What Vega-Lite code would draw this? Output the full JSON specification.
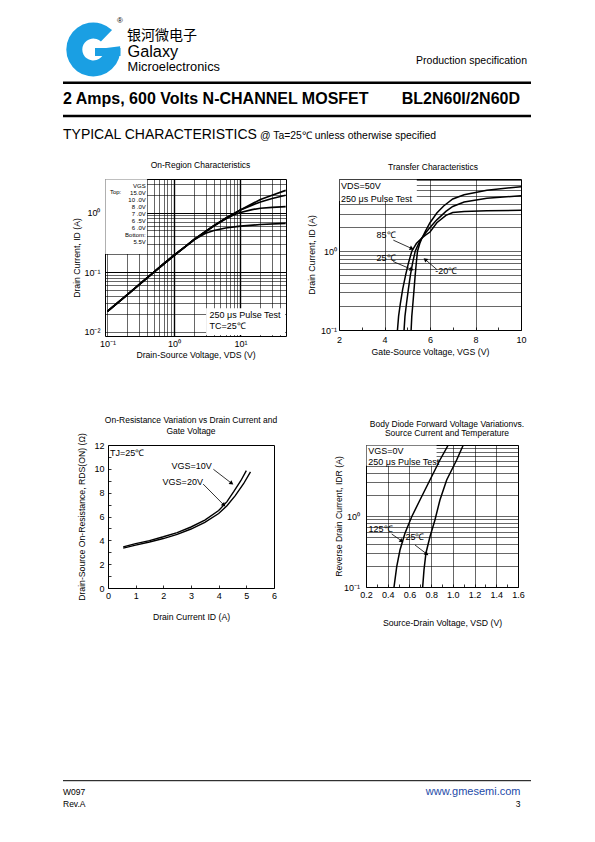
{
"$schema": "https://vega.github.io/schema/vega-lite/v6.json",
"padding": 0,
"spacing": 0,
"bounds": "flush",
"background": "white",
"config": {
  "font": "Liberation Sans",
  "view": {"stroke": "black", "strokeWidth": 1},
  "axis": {"domain": false, "ticks": false, "grid": false, "tickCount": 100, "labelFont": "Liberation Sans", "labelFontSize": 9, "labelColor": "black", "labelFlush": false, "labelOverlap": false, "titleFont": "Liberation Sans", "titleFontSize": 8.7, "titleFontWeight": "normal", "titleColor": "black", "gridColor": "black", "gridWidth": 0.6, "gridOpacity": 1, "labelPadding": 3, "titlePadding": 4},
  "title": {"font": "Liberation Sans", "fontSize": 8.5, "fontWeight": "normal", "color": "black", "offset": 10},
  "text": {"font": "Liberation Sans", "color": "black"}
},
"datasets": {
  "onregion": [
    {"vds": 0.1, "id": 0.022, "vgs": "15V"}, {"vds": 0.2, "id": 0.042, "vgs": "15V"}, {"vds": 0.3, "id": 0.062, "vgs": "15V"}, {"vds": 0.5, "id": 0.1, "vgs": "15V"}, {"vds": 0.7, "id": 0.137, "vgs": "15V"}, {"vds": 1, "id": 0.19, "vgs": "15V"}, {"vds": 1.5, "id": 0.27, "vgs": "15V"}, {"vds": 2, "id": 0.35, "vgs": "15V"}, {"vds": 3, "id": 0.48, "vgs": "15V"}, {"vds": 4, "id": 0.6, "vgs": "15V"}, {"vds": 6, "id": 0.8, "vgs": "15V"}, {"vds": 10, "id": 1.1, "vgs": "15V"}, {"vds": 15, "id": 1.4, "vgs": "15V"}, {"vds": 20, "id": 1.65, "vgs": "15V"}, {"vds": 30, "id": 1.95, "vgs": "15V"}, {"vds": 48, "id": 2.35, "vgs": "15V"},
    {"vds": 0.1, "id": 0.022, "vgs": "10V"}, {"vds": 0.2, "id": 0.042, "vgs": "10V"}, {"vds": 0.3, "id": 0.062, "vgs": "10V"}, {"vds": 0.5, "id": 0.1, "vgs": "10V"}, {"vds": 0.7, "id": 0.137, "vgs": "10V"}, {"vds": 1, "id": 0.19, "vgs": "10V"}, {"vds": 1.5, "id": 0.27, "vgs": "10V"}, {"vds": 2, "id": 0.35, "vgs": "10V"}, {"vds": 3, "id": 0.48, "vgs": "10V"}, {"vds": 4, "id": 0.6, "vgs": "10V"}, {"vds": 6, "id": 0.8, "vgs": "10V"}, {"vds": 10, "id": 1.1, "vgs": "10V"}, {"vds": 15, "id": 1.33, "vgs": "10V"}, {"vds": 20, "id": 1.5, "vgs": "10V"}, {"vds": 30, "id": 1.72, "vgs": "10V"}, {"vds": 48, "id": 1.95, "vgs": "10V"},
    {"vds": 0.1, "id": 0.022, "vgs": "8V"}, {"vds": 0.2, "id": 0.042, "vgs": "8V"}, {"vds": 0.3, "id": 0.062, "vgs": "8V"}, {"vds": 0.5, "id": 0.1, "vgs": "8V"}, {"vds": 0.7, "id": 0.137, "vgs": "8V"}, {"vds": 1, "id": 0.19, "vgs": "8V"}, {"vds": 1.5, "id": 0.27, "vgs": "8V"}, {"vds": 2, "id": 0.35, "vgs": "8V"}, {"vds": 3, "id": 0.48, "vgs": "8V"}, {"vds": 4, "id": 0.6, "vgs": "8V"}, {"vds": 6, "id": 0.78, "vgs": "8V"}, {"vds": 8, "id": 0.92, "vgs": "8V"}, {"vds": 10, "id": 1.0, "vgs": "8V"}, {"vds": 15, "id": 1.12, "vgs": "8V"}, {"vds": 20, "id": 1.18, "vgs": "8V"}, {"vds": 30, "id": 1.22, "vgs": "8V"}, {"vds": 48, "id": 1.26, "vgs": "8V"},
    {"vds": 0.1, "id": 0.022, "vgs": "6V"}, {"vds": 0.2, "id": 0.042, "vgs": "6V"}, {"vds": 0.3, "id": 0.062, "vgs": "6V"}, {"vds": 0.5, "id": 0.1, "vgs": "6V"}, {"vds": 0.7, "id": 0.137, "vgs": "6V"}, {"vds": 1, "id": 0.19, "vgs": "6V"}, {"vds": 1.5, "id": 0.27, "vgs": "6V"}, {"vds": 2, "id": 0.35, "vgs": "6V"}, {"vds": 3, "id": 0.45, "vgs": "6V"}, {"vds": 4, "id": 0.5, "vgs": "6V"}, {"vds": 6, "id": 0.55, "vgs": "6V"}, {"vds": 10, "id": 0.59, "vgs": "6V"}, {"vds": 20, "id": 0.63, "vgs": "6V"}, {"vds": 48, "id": 0.66, "vgs": "6V"}
  ],
  "transfer": [
    {"vgs": 4.57, "id": 0.1, "t": "85"}, {"vgs": 4.62, "id": 0.15, "t": "85"}, {"vgs": 4.7, "id": 0.22, "t": "85"}, {"vgs": 4.8, "id": 0.33, "t": "85"}, {"vgs": 4.93, "id": 0.5, "t": "85"}, {"vgs": 5.06, "id": 0.72, "t": "85"}, {"vgs": 5.2, "id": 1.0, "t": "85"}, {"vgs": 5.4, "id": 1.25, "t": "85"}, {"vgs": 5.62, "id": 1.45, "t": "85"}, {"vgs": 5.8, "id": 1.6, "t": "85"}, {"vgs": 6.0, "id": 1.75, "t": "85"}, {"vgs": 6.3, "id": 2.3, "t": "85"}, {"vgs": 6.7, "id": 2.85, "t": "85"}, {"vgs": 7.0, "id": 3.1, "t": "85"}, {"vgs": 7.5, "id": 3.2, "t": "85"}, {"vgs": 8.5, "id": 3.27, "t": "85"}, {"vgs": 10, "id": 3.3, "t": "85"},
    {"vgs": 4.86, "id": 0.1, "t": "25"}, {"vgs": 4.9, "id": 0.15, "t": "25"}, {"vgs": 4.97, "id": 0.22, "t": "25"}, {"vgs": 5.05, "id": 0.33, "t": "25"}, {"vgs": 5.14, "id": 0.5, "t": "25"}, {"vgs": 5.24, "id": 0.72, "t": "25"}, {"vgs": 5.35, "id": 1.0, "t": "25"}, {"vgs": 5.5, "id": 1.25, "t": "25"}, {"vgs": 5.63, "id": 1.45, "t": "25"}, {"vgs": 5.8, "id": 1.7, "t": "25"}, {"vgs": 6.0, "id": 2.0, "t": "25"}, {"vgs": 6.3, "id": 2.5, "t": "25"}, {"vgs": 6.7, "id": 3.2, "t": "25"}, {"vgs": 7.0, "id": 3.7, "t": "25"}, {"vgs": 7.5, "id": 4.2, "t": "25"}, {"vgs": 8.5, "id": 4.7, "t": "25"}, {"vgs": 10, "id": 5.07, "t": "25"},
    {"vgs": 5.17, "id": 0.1, "t": "-20"}, {"vgs": 5.2, "id": 0.15, "t": "-20"}, {"vgs": 5.25, "id": 0.22, "t": "-20"}, {"vgs": 5.3, "id": 0.33, "t": "-20"}, {"vgs": 5.35, "id": 0.5, "t": "-20"}, {"vgs": 5.4, "id": 0.72, "t": "-20"}, {"vgs": 5.45, "id": 1.0, "t": "-20"}, {"vgs": 5.55, "id": 1.25, "t": "-20"}, {"vgs": 5.64, "id": 1.45, "t": "-20"}, {"vgs": 5.8, "id": 1.8, "t": "-20"}, {"vgs": 6.0, "id": 2.3, "t": "-20"}, {"vgs": 6.3, "id": 3.05, "t": "-20"}, {"vgs": 6.6, "id": 3.75, "t": "-20"}, {"vgs": 7.0, "id": 4.6, "t": "-20"}, {"vgs": 7.5, "id": 5.2, "t": "-20"}, {"vgs": 8.5, "id": 5.95, "t": "-20"}, {"vgs": 10, "id": 6.6, "t": "-20"}
  ],
  "rdson": [
    {"id": 0.55, "r": 3.45, "vgs": "10V"}, {"id": 1, "r": 3.72, "vgs": "10V"}, {"id": 1.5, "r": 3.98, "vgs": "10V"}, {"id": 2, "r": 4.3, "vgs": "10V"}, {"id": 2.5, "r": 4.65, "vgs": "10V"}, {"id": 3, "r": 5.12, "vgs": "10V"}, {"id": 3.5, "r": 5.7, "vgs": "10V"}, {"id": 4, "r": 6.5, "vgs": "10V"}, {"id": 4.3, "r": 7.25, "vgs": "10V"}, {"id": 4.55, "r": 8.1, "vgs": "10V"}, {"id": 4.8, "r": 9.0, "vgs": "10V"}, {"id": 5.0, "r": 9.85, "vgs": "10V"},
    {"id": 0.55, "r": 3.35, "vgs": "20V"}, {"id": 1, "r": 3.6, "vgs": "20V"}, {"id": 1.5, "r": 3.86, "vgs": "20V"}, {"id": 2, "r": 4.15, "vgs": "20V"}, {"id": 2.5, "r": 4.5, "vgs": "20V"}, {"id": 3, "r": 4.95, "vgs": "20V"}, {"id": 3.5, "r": 5.5, "vgs": "20V"}, {"id": 4, "r": 6.25, "vgs": "20V"}, {"id": 4.3, "r": 6.9, "vgs": "20V"}, {"id": 4.6, "r": 7.75, "vgs": "20V"}, {"id": 4.9, "r": 8.75, "vgs": "20V"}, {"id": 5.15, "r": 9.75, "vgs": "20V"}
  ],
  "diode": [
    {"vsd": 0.458, "idr": 0.1, "t": "125"}, {"vsd": 0.483, "idr": 0.193, "t": "125"}, {"vsd": 0.513, "idr": 0.332, "t": "125"}, {"vsd": 0.559, "idr": 0.57, "t": "125"}, {"vsd": 0.621, "idr": 0.977, "t": "125"}, {"vsd": 0.697, "idr": 1.68, "t": "125"}, {"vsd": 0.789, "idr": 3.21, "t": "125"}, {"vsd": 0.881, "idr": 6.15, "t": "125"}, {"vsd": 0.958, "idr": 10, "t": "125"},
    {"vsd": 0.722, "idr": 0.1, "t": "25"}, {"vsd": 0.734, "idr": 0.173, "t": "25"}, {"vsd": 0.752, "idr": 0.299, "t": "25"}, {"vsd": 0.789, "idr": 0.51, "t": "25"}, {"vsd": 0.835, "idr": 0.88, "t": "25"}, {"vsd": 0.881, "idr": 1.68, "t": "25"}, {"vsd": 0.943, "idr": 3.21, "t": "25"}, {"vsd": 1.035, "idr": 6.15, "t": "25"}, {"vsd": 1.096, "idr": 10, "t": "25"}
  ],
  "c1boxes": [{"x1": 0.093, "x2": 0.395, "y1": 0.202, "y2": 3.6}, {"x1": 3.05, "x2": 47, "y1": 0.0088, "y2": 0.0247}],
  "c1notes": [{"label": "250 μs Pulse Test", "ax": 3.43, "ay": 0.0193}, {"label": "TC=25℃", "ax": 3.43, "ay": 0.01265}],
  "c2boxes": [{"x1": 2.03, "x2": 5.42, "y1": 4.35, "y2": 8.1}],
  "c2notes": [{"label": "VDS=50V", "ax": 2.09, "ay": 6.79, "al": "l"}, {"label": "250 μs Pulse Test", "ax": 2.09, "ay": 4.6, "al": "l"}, {"label": "85℃", "ax": 4.07, "ay": 1.59, "al": "c"}, {"label": "25℃", "ax": 4.07, "ay": 0.825, "al": "c"}, {"label": "-20℃", "ax": 6.71, "ay": 0.558, "al": "c"}],
  "c2arrows": [{"k": "85", "ax": 4.39, "ay": 1.38, "ax2": 5.2, "ay2": 1.08}, {"k": "25", "ax": 4.38, "ay": 0.74, "ax2": 5.2, "ay2": 0.586}, {"k": "-20", "ax": 6.3, "ay": 0.586, "ax2": 5.79, "ay2": 0.785}],
  "c3notes": [{"label": "TJ=25℃", "ax": 0.07, "ay": 11.35, "al": "l"}, {"label": "VGS=10V", "ax": 3.75, "ay": 10.26, "al": "r"}, {"label": "VGS=20V", "ax": 3.43, "ay": 8.92, "al": "r"}],
  "c3arrows": [{"k": "10", "ax": 3.81, "ay": 9.96, "ax2": 4.47, "ay2": 8.78}, {"k": "20", "ax": 3.44, "ay": 8.72, "ax2": 4.19, "ay2": 6.96}],
  "c4boxes": [{"x1": 0.205, "x2": 0.85, "y1": 5.1, "y2": 9.85}],
  "c4notes": [{"label": "VGS=0V", "ax": 0.221, "ay": 8.22, "al": "l"}, {"label": "250 μs Pulse Test", "ax": 0.221, "ay": 5.82, "al": "l"}, {"label": "125℃", "ax": 0.334, "ay": 0.65, "al": "c"}, {"label": "25℃", "ax": 0.651, "ay": 0.51, "al": "c"}],
  "c4arrows": [{"k": "125", "ax": 0.437, "ay": 0.557, "ax2": 0.529, "ay2": 0.445}, {"k": "25", "ax": 0.651, "ay": 0.391, "ax2": 0.759, "ay2": 0.292}]
},
"vconcat": [
  {
    "width": 595, "height": 179,
    "view": {"stroke": null},
    "data": {"values": [{}]},
    "layer": [
      {"mark": {"type": "arc", "theta": 1.45, "theta2": 7.05, "radius": 27, "radius2": 11, "color": "#1a9fe3"},
       "encoding": {"x": {"datum": 93.3, "type": "quantitative", "scale": {"domain": [0, 595], "nice": false, "zero": false}, "axis": null},
                    "y": {"datum": 49.5, "type": "quantitative", "scale": {"domain": [0, 179], "nice": false, "zero": false, "reverse": true}, "axis": null}}},
      {"mark": {"type": "rect", "color": "#1a9fe3"},
       "encoding": {"x": {"datum": 95, "type": "quantitative", "axis": null}, "x2": {"datum": 120.5},
                    "y": {"datum": 48, "type": "quantitative", "axis": null}, "y2": {"datum": 56}}},
      {"mark": {"type": "text", "text": "®", "fontSize": 8, "align": "center", "baseline": "middle"},
       "encoding": {"x": {"datum": 120, "type": "quantitative", "axis": null}, "y": {"datum": 20.5, "type": "quantitative", "axis": null}}},
      {"mark": {"type": "text", "text": "银河微电子", "font": "Noto Sans CJK SC", "fontSize": 14, "align": "left", "baseline": "alphabetic"},
       "encoding": {"x": {"datum": 127, "type": "quantitative", "axis": null}, "y": {"datum": 39.5, "type": "quantitative", "axis": null}}},
      {"mark": {"type": "text", "text": "Galaxy", "fontSize": 16.3, "align": "left", "baseline": "alphabetic"},
       "encoding": {"x": {"datum": 127.5, "type": "quantitative", "axis": null}, "y": {"datum": 57.3, "type": "quantitative", "axis": null}}},
      {"mark": {"type": "text", "text": "Microelectronics", "fontSize": 12.8, "align": "left", "baseline": "alphabetic"},
       "encoding": {"x": {"datum": 127.5, "type": "quantitative", "axis": null}, "y": {"datum": 70.7, "type": "quantitative", "axis": null}}},
      {"mark": {"type": "text", "text": "Production specification", "fontSize": 10.5, "align": "right", "baseline": "alphabetic"},
       "encoding": {"x": {"datum": 527, "type": "quantitative", "axis": null}, "y": {"datum": 64, "type": "quantitative", "axis": null}}},
      {"mark": {"type": "rule", "strokeWidth": 2.6, "color": "black"},
       "encoding": {"x": {"datum": 63, "type": "quantitative", "axis": null}, "x2": {"datum": 531}, "y": {"datum": 82.7, "type": "quantitative", "axis": null}}},
      {"mark": {"type": "rule", "strokeWidth": 2.6, "color": "black"},
       "encoding": {"x": {"datum": 63, "type": "quantitative", "axis": null}, "x2": {"datum": 531}, "y": {"datum": 116, "type": "quantitative", "axis": null}}},
      {"mark": {"type": "text", "text": "2 Amps, 600 Volts N-CHANNEL MOSFET", "fontSize": 16, "fontWeight": "bold", "align": "left", "baseline": "alphabetic"},
       "encoding": {"x": {"datum": 63, "type": "quantitative", "axis": null}, "y": {"datum": 103.5, "type": "quantitative", "axis": null}}},
      {"mark": {"type": "text", "text": "BL2N60I/2N60D", "fontSize": 16, "fontWeight": "bold", "align": "right", "baseline": "alphabetic"},
       "encoding": {"x": {"datum": 520, "type": "quantitative", "axis": null}, "y": {"datum": 103.5, "type": "quantitative", "axis": null}}},
      {"mark": {"type": "text", "text": "TYPICAL CHARACTERISTICS", "fontSize": 14, "align": "left", "baseline": "alphabetic"},
       "encoding": {"x": {"datum": 63, "type": "quantitative", "axis": null}, "y": {"datum": 139.3, "type": "quantitative", "axis": null}}},
      {"mark": {"type": "text", "text": "@ Ta=25℃ unless otherwise specified", "fontSize": 10.4, "align": "left", "baseline": "alphabetic"},
       "encoding": {"x": {"datum": 260, "type": "quantitative", "axis": null}, "y": {"datum": 139.3, "type": "quantitative", "axis": null}}}
    ]
  },
  {
    "hconcat": [
      {"width": 105, "height": 1, "view": {"stroke": null}, "data": {"values": []}, "mark": "point"},
      {
        "width": 181, "height": 157,
        "title": {"text": "On-Region Characteristics", "offset": 10, "dx": 5},
        "layer": [
          {"data": {"name": "c1boxes"}, "mark": {"type": "rect", "color": "white"},
           "encoding": {
             "x": {"field": "x1", "type": "quantitative", "scale": {"type": "log", "domain": [0.092, 48.5], "nice": false},
                   "axis": {"values": [0.1, 0.2, 0.3, 0.4, 0.5, 0.6, 0.7, 0.8, 0.9, 1, 2, 3, 4, 5, 6, 7, 8, 9, 10, 20, 30, 40],
                            "labelExpr": "datum.value == 0.1 ? '10⁻¹' : datum.value == 1 ? '10⁰' : datum.value == 10 ? '10¹' : ''",
                            "grid": true, "gridWidth": {"condition": {"test": "datum.value == 1 || datum.value == 10", "value": 1.4}, "value": 0.6},
                            "title": "Drain-Source Voltage, VDS (V)", "labelPadding": 3, "titlePadding": 2}},
             "x2": {"field": "x2"},
             "y": {"field": "y1", "type": "quantitative", "scale": {"type": "log", "domain": [0.0085, 3.65], "nice": false},
                   "axis": {"values": [0.01, 0.02, 0.03, 0.04, 0.05, 0.06, 0.07, 0.08, 0.09, 0.1, 0.2, 0.3, 0.4, 0.5, 0.6, 0.7, 0.8, 0.9, 1, 2, 3],
                            "labelExpr": "datum.value == 0.01 ? '10⁻²' : datum.value == 0.1 ? '10⁻¹' : datum.value == 1 ? '10⁰' : ''",
                            "grid": true, "gridWidth": {"condition": {"test": "datum.value == 0.1 || datum.value == 1", "value": 1.0}, "value": 0.6},
                            "title": "Drain Current, ID (A)", "labelPadding": 5, "titlePadding": 2}},
             "y2": {"field": "y2"}}},
          {"data": {"name": "onregion"}, "mark": {"type": "line", "color": "black", "strokeWidth": 1.7, "clip": true},
           "encoding": {"x": {"field": "vds", "type": "quantitative"}, "y": {"field": "id", "type": "quantitative"}, "detail": {"field": "vgs"}}},
          {"data": {"values": [{}]}, "mark": {"type": "text", "text": ["VGS", "15.0V", "10 .0V", "8 .0V", "7 .0V", "6 .5V", "6 .0V", "Bottom:", "5.5V"], "align": "right", "baseline": "top", "fontSize": 6, "lineHeight": 7.1},
           "encoding": {"x": {"datum": 0.377, "type": "quantitative"}, "y": {"datum": 3.18, "type": "quantitative"}}},
          {"data": {"values": [{}]}, "mark": {"type": "text", "text": "Top:", "align": "left", "baseline": "middle", "fontSize": 6},
           "encoding": {"x": {"datum": 0.109, "type": "quantitative"}, "y": {"datum": 2.25, "type": "quantitative"}}},
          {"data": {"name": "c1notes"}, "mark": {"type": "text", "align": "left", "baseline": "middle", "fontSize": 9},
           "encoding": {"x": {"field": "ax", "type": "quantitative"}, "y": {"field": "ay", "type": "quantitative"}, "text": {"field": "label"}}}
        ]
      },
      {"width": 53, "height": 1, "view": {"stroke": null}, "data": {"values": []}, "mark": "point"},
      {
        "width": 182, "height": 151,
        "title": {"text": "Transfer Characteristics", "offset": 5, "dx": 3},
        "layer": [
          {"data": {"name": "c2boxes"}, "mark": {"type": "rect", "color": "white"},
           "encoding": {
             "x": {"field": "x1", "type": "quantitative", "scale": {"domain": [2, 10], "nice": false, "zero": false},
                   "axis": {"values": [2, 3, 4, 5, 6, 7, 8, 9, 10], "tickCount": 100, "format": "d",
                            "labelExpr": "datum.value % 2 == 0 ? datum.label : ''",
                            "grid": true, "gridOpacity": {"condition": {"test": "datum.value == 4 || datum.value == 6 || datum.value == 8", "value": 1}, "value": 0},
                            "ticks": true, "tickSize": -3, "tickColor": "black", "tickWidth": 0.8,
                            "title": "Gate-Source Voltage, VGS (V)", "labelPadding": 8, "titlePadding": 3}},
             "x2": {"field": "x2"},
             "y": {"field": "y1", "type": "quantitative", "scale": {"type": "log", "domain": [0.1, 8.25], "nice": false},
                   "axis": {"values": [0.1, 0.2, 0.3, 0.4, 0.5, 0.6, 0.7, 0.8, 0.9, 1, 2, 3, 4, 5, 6, 7, 8],
                            "labelExpr": "datum.value == 0.1 ? '10⁻¹' : datum.value == 1 ? '10⁰' : ''",
                            "grid": true, "title": "Drain Current, ID (A)", "labelPadding": 2.5, "titlePadding": 4}},
             "y2": {"field": "y2"}}},
          {"data": {"name": "transfer"}, "mark": {"type": "line", "color": "black", "strokeWidth": 1.5, "clip": true},
           "encoding": {"x": {"field": "vgs", "type": "quantitative"}, "y": {"field": "id", "type": "quantitative"}, "detail": {"field": "t"}}},
          {"data": {"name": "c2notes"}, "transform": [{"filter": "datum.al == 'l'"}], "mark": {"type": "text", "align": "left", "baseline": "middle", "fontSize": 9},
           "encoding": {"x": {"field": "ax", "type": "quantitative"}, "y": {"field": "ay", "type": "quantitative"}, "text": {"field": "label"}}},
          {"data": {"name": "c2notes"}, "transform": [{"filter": "datum.al == 'c'"}], "mark": {"type": "text", "align": "center", "baseline": "middle", "fontSize": 9},
           "encoding": {"x": {"field": "ax", "type": "quantitative"}, "y": {"field": "ay", "type": "quantitative"}, "text": {"field": "label"}}},
          {"data": {"name": "c2arrows"}, "mark": {"type": "rule", "color": "black", "strokeWidth": 0.8},
           "encoding": {"x": {"field": "ax", "type": "quantitative"}, "y": {"field": "ay", "type": "quantitative"}, "x2": {"field": "ax2"}, "y2": {"field": "ay2"}}},
          {"data": {"name": "c2arrows"}, "transform": [{"filter": "datum.k == '85'"}], "mark": {"type": "point", "shape": "triangle-up", "filled": true, "size": 22, "color": "black", "opacity": 1, "angle": 114},
           "encoding": {"x": {"field": "ax2", "type": "quantitative"}, "y": {"field": "ay2", "type": "quantitative"}}},
          {"data": {"name": "c2arrows"}, "transform": [{"filter": "datum.k == '25'"}], "mark": {"type": "point", "shape": "triangle-up", "filled": true, "size": 22, "color": "black", "opacity": 1, "angle": 113},
           "encoding": {"x": {"field": "ax2", "type": "quantitative"}, "y": {"field": "ay2", "type": "quantitative"}}},
          {"data": {"name": "c2arrows"}, "transform": [{"filter": "datum.k == '-20'"}], "mark": {"type": "point", "shape": "triangle-up", "filled": true, "size": 22, "color": "black", "opacity": 1, "angle": 310},
           "encoding": {"x": {"field": "ax2", "type": "quantitative"}, "y": {"field": "ay2", "type": "quantitative"}}}
        ]
      }
    ],
    "spacing": 0, "bounds": "flush"
  },
  {"width": 1, "height": 266, "view": {"stroke": null}, "data": {"values": []}, "mark": "point"},
  {
    "hconcat": [
      {"width": 108, "height": 1, "view": {"stroke": null}, "data": {"values": []}, "mark": "point"},
      {
        "width": 166, "height": 143,
        "title": {"text": ["On-Resistance Variation vs Drain Current and", "Gate Voltage"], "offset": -3, "lineHeight": 11},
        "layer": [
          {"data": {"name": "rdson"}, "mark": {"type": "line", "color": "black", "strokeWidth": 1.4, "clip": true},
           "encoding": {
             "x": {"field": "id", "type": "quantitative", "scale": {"domain": [0, 6], "nice": false, "zero": false},
                   "axis": {"values": [0, 1, 2, 3, 4, 5, 6], "tickCount": 100, "format": "d", "ticks": true, "tickSize": -3, "tickColor": "black", "tickWidth": 0.8,
                            "title": "Drain Current ID (A)", "labelPadding": 6, "titlePadding": 12}},
             "y": {"field": "r", "type": "quantitative", "scale": {"domain": [0, 12], "nice": false, "zero": false},
                   "axis": {"values": [0, 1, 2, 3, 4, 5, 6, 7, 8, 9, 10, 11, 12], "tickCount": 100, "format": "d", "labelExpr": "datum.value % 2 == 0 ? datum.label : ''",
                            "ticks": true, "tickSize": -3, "tickColor": "black", "tickWidth": 0.8,
                            "title": "Drain-Source On-Resistance, RDS(ON) (Ω)", "labelPadding": 7, "titlePadding": 7}},
             "detail": {"field": "vgs"}}},
          {"data": {"name": "c3notes"}, "transform": [{"filter": "datum.al == 'l'"}], "mark": {"type": "text", "align": "left", "baseline": "middle", "fontSize": 9},
           "encoding": {"x": {"field": "ax", "type": "quantitative"}, "y": {"field": "ay", "type": "quantitative"}, "text": {"field": "label"}}},
          {"data": {"name": "c3notes"}, "transform": [{"filter": "datum.al == 'r'"}], "mark": {"type": "text", "align": "right", "baseline": "middle", "fontSize": 9},
           "encoding": {"x": {"field": "ax", "type": "quantitative"}, "y": {"field": "ay", "type": "quantitative"}, "text": {"field": "label"}}},
          {"data": {"name": "c3arrows"}, "mark": {"type": "rule", "color": "black", "strokeWidth": 0.8},
           "encoding": {"x": {"field": "ax", "type": "quantitative"}, "y": {"field": "ay", "type": "quantitative"}, "x2": {"field": "ax2"}, "y2": {"field": "ay2"}}},
          {"data": {"name": "c3arrows"}, "transform": [{"filter": "datum.k == '10'"}], "mark": {"type": "point", "shape": "triangle-up", "filled": true, "size": 22, "color": "black", "opacity": 1, "angle": 127},
           "encoding": {"x": {"field": "ax2", "type": "quantitative"}, "y": {"field": "ay2", "type": "quantitative"}}},
          {"data": {"name": "c3arrows"}, "transform": [{"filter": "datum.k == '20'"}], "mark": {"type": "point", "shape": "triangle-up", "filled": true, "size": 22, "color": "black", "opacity": 1, "angle": 135},
           "encoding": {"x": {"field": "ax2", "type": "quantitative"}, "y": {"field": "ay2", "type": "quantitative"}}}
        ]
      },
      {"width": 92, "height": 1, "view": {"stroke": null}, "data": {"values": []}, "mark": "point"},
      {
        "width": 152, "height": 142,
        "title": {"text": ["Body Diode Forward Voltage Variationvs.", "Source Current and Temperature"], "offset": 3.5, "lineHeight": 9.5, "dx": 5},
        "layer": [
          {"data": {"name": "c4boxes"}, "mark": {"type": "rect", "color": "white"},
           "encoding": {
             "x": {"field": "x1", "type": "quantitative", "scale": {"domain": [0.2, 1.6], "nice": false, "zero": false},
                   "axis": {"values": [0.2, 0.3, 0.4, 0.5, 0.6, 0.7, 0.8, 0.9, 1.0, 1.1, 1.2, 1.3, 1.4, 1.5, 1.6], "tickCount": 100,
                            "labelExpr": "round(datum.value * 10) % 2 == 0 ? format(datum.value, '.1f') : ''",
                            "grid": true, "gridOpacity": {"condition": {"test": "round(datum.value * 10) % 2 == 0 && datum.value > 0.25 && datum.value < 1.55", "value": 1}, "value": 0},
                            "ticks": true, "tickSize": -3, "tickColor": "black", "tickWidth": 0.8,
                            "title": "Source-Drain Voltage, VSD (V)", "labelPadding": 6.5, "titlePadding": 19}},
             "x2": {"field": "x2"},
             "y": {"field": "y1", "type": "quantitative", "scale": {"type": "log", "domain": [0.1, 10], "nice": false},
                   "axis": {"values": [0.1, 0.2, 0.3, 0.4, 0.5, 0.6, 0.7, 0.8, 0.9, 1, 2, 3, 4, 5, 6, 7, 8, 9, 10],
                            "labelExpr": "datum.value == 0.1 ? '10⁻¹' : datum.value == 1 ? '10⁰' : ''",
                            "grid": true, "title": "Reverse Drain Current, IDR (A)", "labelPadding": 6.5, "titlePadding": 0}},
             "y2": {"field": "y2"}}},
          {"data": {"name": "diode"}, "mark": {"type": "line", "color": "black", "strokeWidth": 1.5, "clip": true},
           "encoding": {"x": {"field": "vsd", "type": "quantitative"}, "y": {"field": "idr", "type": "quantitative"}, "detail": {"field": "t"}}},
          {"data": {"name": "c4notes"}, "transform": [{"filter": "datum.al == 'l'"}], "mark": {"type": "text", "align": "left", "baseline": "middle", "fontSize": 9},
           "encoding": {"x": {"field": "ax", "type": "quantitative"}, "y": {"field": "ay", "type": "quantitative"}, "text": {"field": "label"}}},
          {"data": {"name": "c4notes"}, "transform": [{"filter": "datum.al == 'c'"}], "mark": {"type": "text", "align": "center", "baseline": "middle", "fontSize": 9},
           "encoding": {"x": {"field": "ax", "type": "quantitative"}, "y": {"field": "ay", "type": "quantitative"}, "text": {"field": "label"}}},
          {"data": {"name": "c4arrows"}, "mark": {"type": "rule", "color": "black", "strokeWidth": 0.8},
           "encoding": {"x": {"field": "ax", "type": "quantitative"}, "y": {"field": "ay", "type": "quantitative"}, "x2": {"field": "ax2"}, "y2": {"field": "ay2"}}},
          {"data": {"name": "c4arrows"}, "transform": [{"filter": "datum.k == '125'"}], "mark": {"type": "point", "shape": "triangle-up", "filled": true, "size": 22, "color": "black", "opacity": 1, "angle": 125},
           "encoding": {"x": {"field": "ax2", "type": "quantitative"}, "y": {"field": "ay2", "type": "quantitative"}}},
          {"data": {"name": "c4arrows"}, "transform": [{"filter": "datum.k == '25'"}], "mark": {"type": "point", "shape": "triangle-up", "filled": true, "size": 22, "color": "black", "opacity": 1, "angle": 128},
           "encoding": {"x": {"field": "ax2", "type": "quantitative"}, "y": {"field": "ay2", "type": "quantitative"}}}
        ]
      }
    ],
    "spacing": 0, "bounds": "flush"
  },
  {"width": 1, "height": 143, "view": {"stroke": null}, "data": {"values": []}, "mark": "point"},
  {
    "width": 595, "height": 254,
    "view": {"stroke": null},
    "data": {"values": [{}]},
    "layer": [
      {"mark": {"type": "rule", "strokeWidth": 1, "color": "black"},
       "encoding": {"x": {"datum": 63, "type": "quantitative", "scale": {"domain": [0, 595], "nice": false, "zero": false}, "axis": null}, "x2": {"datum": 531},
                    "y": {"datum": 780.7, "type": "quantitative", "scale": {"domain": [588, 842], "nice": false, "zero": false, "reverse": true}, "axis": null}}},
      {"mark": {"type": "text", "text": "W097", "fontSize": 8.5, "align": "left", "baseline": "middle"},
       "encoding": {"x": {"datum": 63, "type": "quantitative", "axis": null}, "y": {"datum": 791.7, "type": "quantitative", "axis": null}}},
      {"mark": {"type": "text", "text": "Rev.A", "fontSize": 8.5, "align": "left", "baseline": "middle"},
       "encoding": {"x": {"datum": 63, "type": "quantitative", "axis": null}, "y": {"datum": 804.3, "type": "quantitative", "axis": null}}},
      {"mark": {"type": "text", "text": "www.gmesemi.com", "fontSize": 11, "align": "right", "baseline": "middle", "color": "#1d4aa8"},
       "encoding": {"x": {"datum": 520.5, "type": "quantitative", "axis": null}, "y": {"datum": 791.7, "type": "quantitative", "axis": null}}},
      {"mark": {"type": "text", "text": "3", "fontSize": 8.5, "align": "right", "baseline": "middle"},
       "encoding": {"x": {"datum": 520.5, "type": "quantitative", "axis": null}, "y": {"datum": 804.3, "type": "quantitative", "axis": null}}}
    ]
  }
]
}
